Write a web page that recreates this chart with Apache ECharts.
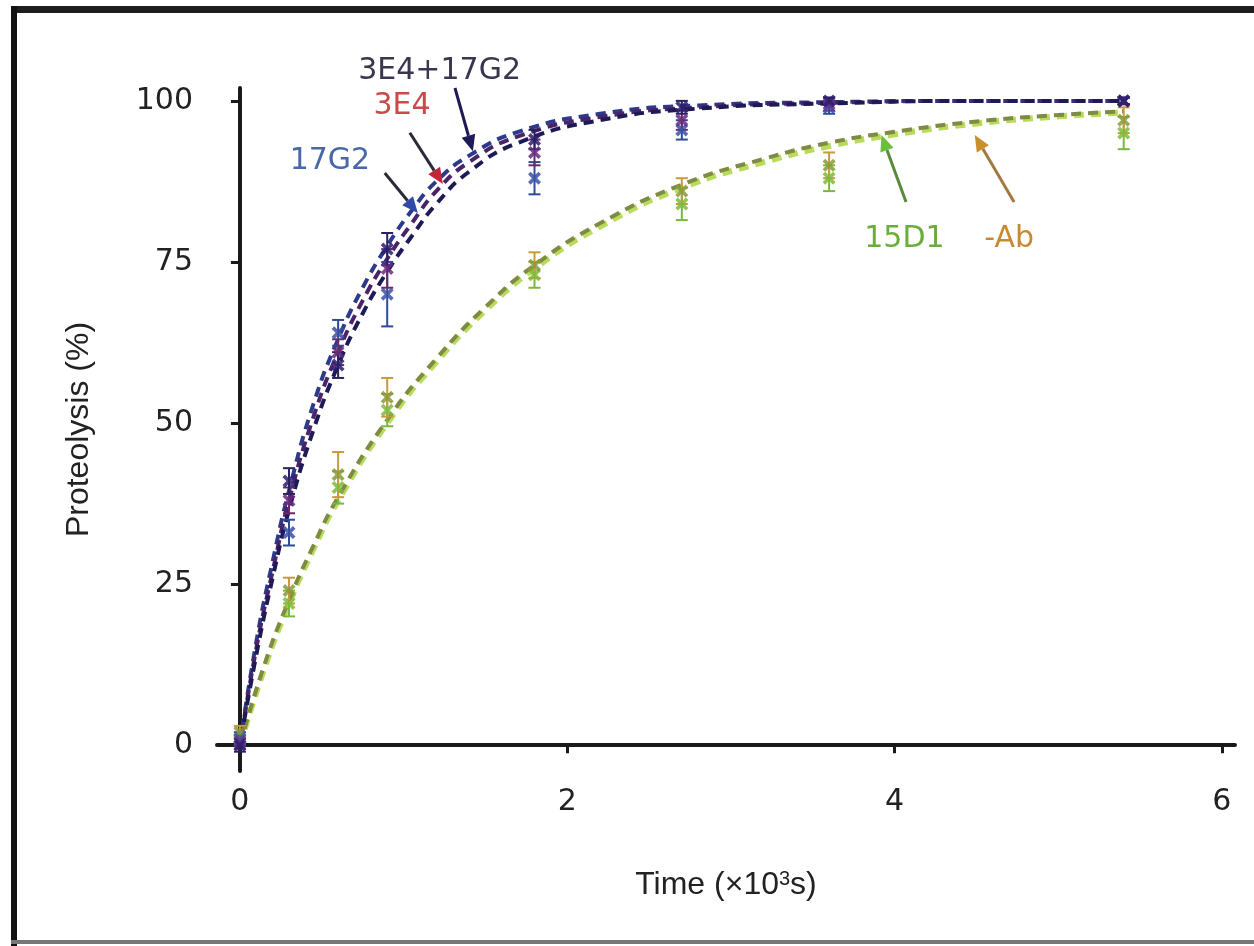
<!DOCTYPE html>
<html>
<head>
<meta charset="utf-8">
<script src="https://cdn.jsdelivr.net/npm/echarts@6/dist/echarts.min.js"></script>
<style>
html,body{margin:0;padding:0;background:#fff;}
#chart{width:1254px;height:946px;}
</style>
</head>
<body>
<div id="chart"></div>
<script>
// ---- data (time in 10^3 s, proteolysis in %) ----
const xTicks = [0, 2, 4, 6];
const yTicks = [0, 25, 50, 75, 100];

// fitted curves
const fastFitT = [0, 0.1, 0.2, 0.3, 0.45, 0.6, 0.75, 0.9, 1.05, 1.2, 1.4, 1.7, 2.2, 2.8, 3.6, 4.5, 5.4];
const fit17G2   = [0, 16, 28.5, 39.5, 53, 63, 71, 77.5, 83, 87.5, 91.5, 95.2, 98, 99.3, 99.8, 100, 100];
const fit3E4    = [0, 15, 27, 38, 51, 61, 69, 75.5, 81, 86, 90.5, 94.5, 97.5, 99, 99.7, 100, 100];
const fit3E4_17G2 = [0, 14, 26, 36.5, 49, 59, 67, 73.5, 79, 84, 89, 93.5, 97, 98.8, 99.6, 100, 100];

const slowFitT = [0, 0.15, 0.3, 0.45, 0.6, 0.9, 1.2, 1.5, 1.8, 2.2, 2.7, 3.2, 3.6, 4.0, 4.5, 5.0, 5.4];
const fit15D1 = [0, 12, 22, 30.5, 38, 50, 59.5, 67.5, 74, 80.5, 86.5, 90.5, 93, 94.8, 96.5, 97.6, 98.2];
const fitNoAb = [0, 12.5, 22.5, 31, 38.5, 50.5, 60, 68, 74.5, 81, 87, 91, 93.5, 95.2, 96.8, 97.8, 98.4];

// measured points
const sampleT = [0, 0.3, 0.6, 0.9, 1.8, 2.7, 3.6, 5.4];
const pts17G2 = [1, 33, 64, 70, 88, 95.5, 99, 100];
const err17G2 = [1, 2, 2, 5, 2.5, 1.5, 1, 0.5];
const pts3E4 = [0.5, 38, 61, 74, 92, 97, 99.5, 100];
const err3E4 = [1, 2, 2, 3, 2, 1.5, 1, 0.5];
const pts3E4_17G2 = [0, 41, 59, 77, 94, 99, 100, 100];
const err3E4_17G2 = [1, 2, 2, 2.5, 1.5, 1, 0.5, 0.5];
const pts15D1 = [1, 22, 40, 52, 73, 84, 88, 95];
const err15D1 = [1, 2, 2.5, 2.5, 2, 2.5, 2, 2.5];
const ptsNoAb = [2, 24, 42, 54, 74.5, 86, 90, 97];
const errNoAb = [1, 2, 3.5, 3, 2, 2, 2, 2];

// annotations (text position, arrow start, arrow end) in data units
const annotations = [
  {text: '3E4+17G2', color: '#3a3650', head: '#1e1a55', shaft: '#1e1a55', at: [1.22, 104.6], from: [1.314, 102.0], to: [1.423, 92.2]},
  {text: '3E4', color: '#c84a4a', head: '#c0283a', shaft: '#2a2a3a', at: [0.99, 99.1], from: [1.038, 95.05], to: [1.24, 87.1]},
  {text: '17G2', color: '#4a68a8', head: '#2f4aa8', shaft: '#2a2a3a', at: [0.55, 90.7], from: [0.885, 88.8], to: [1.087, 82.6]},
  {text: '15D1', color: '#6aae3a', head: '#6ac03a', shaft: '#5a8a3a', at: [4.06, 78.6], from: [4.07, 84.3], to: [3.92, 94.7]},
  {text: '-Ab', color: '#c88a30', head: '#c8902a', shaft: '#a07a40', at: [4.70, 78.6], from: [4.73, 84.3], to: [4.49, 94.7]}
];

const xPath = 'path://M2,0 L5,3 L8,0 L10,2 L7,5 L10,8 L8,10 L5,7 L2,10 L0,8 L3,5 L0,2 Z';

function zip(a, b) { return a.map((v, i) => [v, b[i]]); }
function zip3(a, b, c) { return a.map((v, i) => [v, b[i], c[i]]); }

function fitLine(name, t, v, color, offset, width) {
  return {
    name: name, type: 'line', data: zip(t, v), smooth: true, showSymbol: false, silent: true,
    lineStyle: {color: color, width: width || 4, type: [10, 7], dashOffset: offset}, z: 2
  };
}
function pointSeries(name, v, color) {
  return {
    name: name + ' pts', type: 'scatter', data: zip(sampleT, v), symbol: xPath, symbolSize: 13,
    itemStyle: {color: color, opacity: 0.85}, z: 4, silent: true
  };
}
function errSeries(name, v, e, color) {
  return {
    name: name + ' err', type: 'custom', data: zip3(sampleT, v, e), z: 3, silent: true,
    encode: {x: 0, y: 1},
    renderItem: function (params, api) {
      const x = api.value(0), y = api.value(1), er = api.value(2);
      const top = api.coord([x, y + er]);
      const bot = api.coord([x, y - er]);
      const w = 6;
      const st = {stroke: color, lineWidth: 2};
      return {type: 'group', children: [
        {type: 'line', shape: {x1: top[0], y1: top[1], x2: bot[0], y2: bot[1]}, style: st},
        {type: 'line', shape: {x1: top[0] - w, y1: top[1], x2: top[0] + w, y2: top[1]}, style: st},
        {type: 'line', shape: {x1: bot[0] - w, y1: bot[1], x2: bot[0] + w, y2: bot[1]}, style: st}
      ]};
    }
  };
}

const chart = echarts.init(document.getElementById('chart'));
const axisColor = '#1a1a1a';
const option = {
  backgroundColor: '#ffffff',
  animation: false,
  grid: {left: 217, right: 19, top: 88, bottom: 175},
  xAxis: {
    type: 'value', min: -0.14, max: 6.08,
    splitLine: {show: false},
    axisLine: {lineStyle: {color: axisColor, width: 4}},
    axisTick: {customValues: xTicks, length: 8, lineStyle: {color: axisColor, width: 3}},
    axisLabel: {customValues: xTicks, margin: 16, color: '#222', fontSize: 30, fontFamily: 'DejaVu Sans'},
    name: 'Time (×10{s|3}s)', nameLocation: 'middle', nameGap: 98,
    nameTextStyle: {color: '#222', fontSize: 32, fontFamily: 'Liberation Sans Narrow, Liberation Sans',
      rich: {s: {fontSize: 20, verticalAlign: 'top', color: '#222', fontFamily: 'Liberation Sans Narrow, Liberation Sans', padding: [0, 0, 12, 0]}}}
  },
  yAxis: {
    type: 'value', min: -4, max: 102,
    splitLine: {show: false},
    axisLine: {lineStyle: {color: axisColor, width: 4}},
    axisTick: {customValues: yTicks, length: 9, lineStyle: {color: axisColor, width: 3}},
    axisLabel: {customValues: yTicks, margin: 24, color: '#222', fontSize: 30, fontFamily: 'DejaVu Sans'},
    name: 'Proteolysis (%)', nameLocation: 'middle', nameGap: 122, nameRotate: 90,
    nameTextStyle: {color: '#222', fontSize: 32, fontFamily: 'Liberation Sans Narrow, Liberation Sans'}
  },
  series: [
    fitLine('15D1', slowFitT, fit15D1, '#b8dc5a', 0, 6),
    fitLine('-Ab', slowFitT, fitNoAb, '#7f8a44', 0, 4),
    errSeries('15D1', pts15D1, err15D1, '#7ab83a'),
    errSeries('-Ab', ptsNoAb, errNoAb, '#c89a3a'),
    pointSeries('15D1', pts15D1, '#7dbb3a'),
    pointSeries('-Ab', ptsNoAb, '#8a9a3a'),
    fitLine('17G2', fastFitT, fit17G2, '#2c3a8a', 0),
    fitLine('3E4', fastFitT, fit3E4, '#4a2468', 5),
    fitLine('3E4+17G2', fastFitT, fit3E4_17G2, '#1e1a55', 10),
    errSeries('17G2', pts17G2, err17G2, '#2f4a9a'),
    errSeries('3E4', pts3E4, err3E4, '#6a2a6a'),
    errSeries('3E4+17G2', pts3E4_17G2, err3E4_17G2, '#2a2060'),
    pointSeries('17G2', pts17G2, '#3a50a8'),
    pointSeries('3E4', pts3E4, '#6a2a80'),
    pointSeries('3E4+17G2', pts3E4_17G2, '#2a1f6e')
  ]
};
chart.setOption(option);

// frame + annotations
const graphics = [
  {type: 'rect', shape: {x: 11, y: 6, width: 1243, height: 7}, style: {fill: '#1e1e1e'}, z: 100},
  {type: 'rect', shape: {x: 11, y: 6, width: 6, height: 940}, style: {fill: '#111'}, z: 100},
  {type: 'rect', shape: {x: 11, y: 940, width: 1243, height: 4}, style: {fill: '#777'}, z: 100}
];
annotations.forEach(function (a) {
  const p = chart.convertToPixel({gridIndex: 0}, a.at);
  const s = chart.convertToPixel({gridIndex: 0}, a.from);
  const e = chart.convertToPixel({gridIndex: 0}, a.to);
  const dx = e[0] - s[0], dy = e[1] - s[1];
  const L = Math.sqrt(dx * dx + dy * dy);
  const ux = dx / L, uy = dy / L;
  const hl = 16, hw = 7;
  const bx = e[0] - ux * hl, by = e[1] - uy * hl;
  graphics.push({type: 'text', x: p[0], y: p[1], style: {text: a.text, fill: a.color, fontSize: 30,
    fontFamily: 'DejaVu Sans', align: 'center', verticalAlign: 'middle'}, z: 50});
  graphics.push({type: 'line', shape: {x1: s[0], y1: s[1], x2: bx, y2: by}, style: {stroke: a.shaft, lineWidth: 3}, z: 50});
  graphics.push({type: 'polygon', shape: {points: [[e[0], e[1]], [bx - uy * hw, by + ux * hw], [bx + uy * hw, by - ux * hw]]},
    style: {fill: a.head}, z: 51});
});
chart.setOption({graphic: graphics});
</script>
</body>
</html>
